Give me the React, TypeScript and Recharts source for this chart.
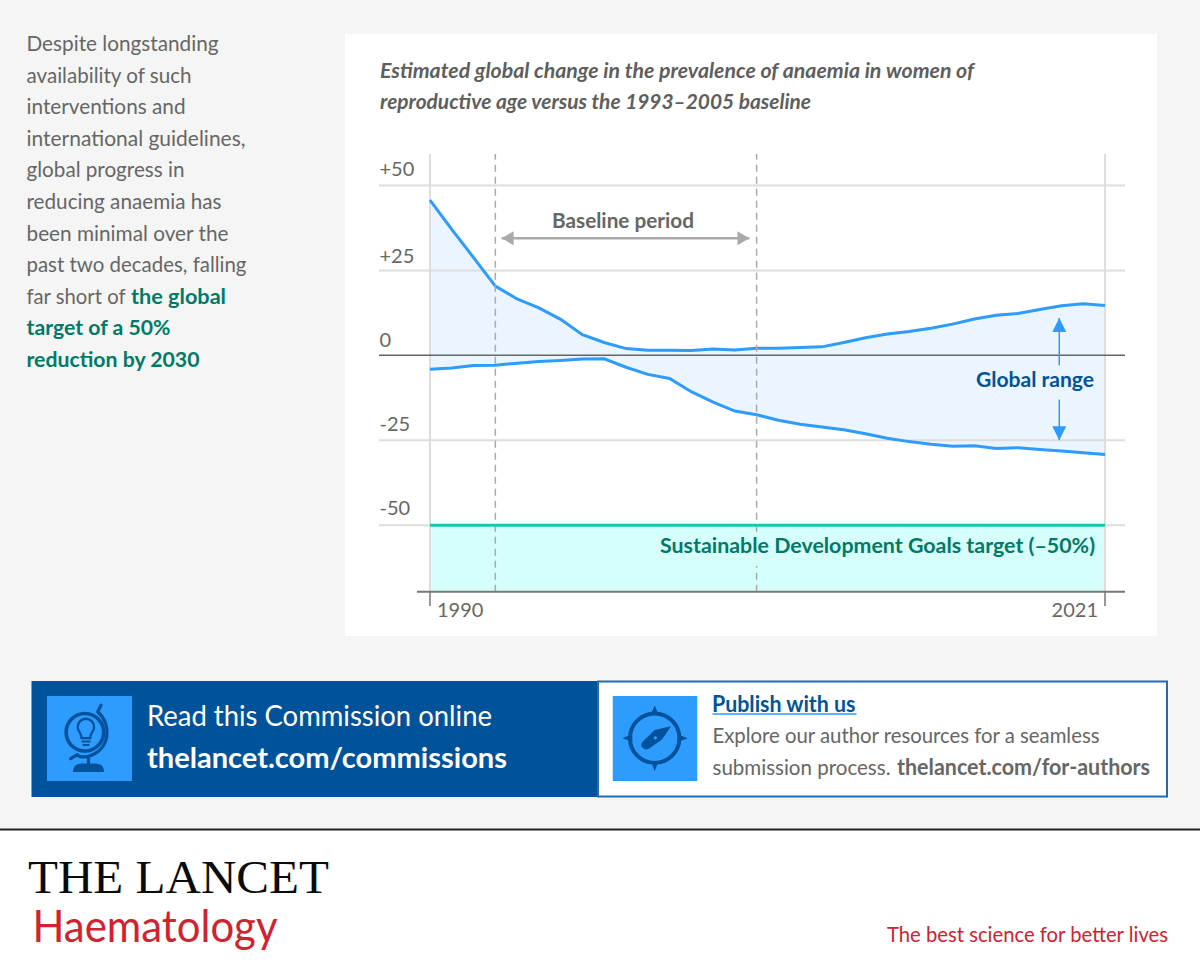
import {
  Area,
  ComposedChart,
  Line,
  ReferenceArea,
  ReferenceLine,
  XAxis,
  YAxis,
} from 'recharts';

const years = [
  1990, 1991, 1992, 1993, 1994, 1995, 1996, 1997, 1998, 1999, 2000, 2001, 2002, 2003, 2004, 2005,
  2006, 2007, 2008, 2009, 2010, 2011, 2012, 2013, 2014, 2015, 2016, 2017, 2018, 2019, 2020, 2021,
];
const upperChange = [
  45.7, 37.1, 28.8, 20.4, 16.6, 14, 10.6, 6.1, 3.8, 2, 1.5, 1.5, 1.4, 1.9, 1.6, 2.1,
  2.1, 2.3, 2.5, 3.8, 5.2, 6.3, 7, 8, 9.2, 10.7, 11.8, 12.3, 13.5, 14.6, 15.2, 14.7,
];
const lowerChange = [
  -4.1, -3.7, -3, -2.9, -2.3, -1.8, -1.5, -1.1, -1, -3.5, -5.6, -6.8, -10.7, -13.8, -16.4, -17.5,
  -19.1, -20.3, -21.1, -21.9, -23.1, -24.4, -25.4, -26.2, -26.8, -26.6, -27.4, -27.2, -27.7, -28.2, -28.7, -29.2,
];
const yTicks = [50, 25, 0, -25, -50];
const yTickLabels = ['+50', '+25', '0', '-25', '-50'];
const yTickLift = [9.5, 7.5, 8, 9, 10];
const xTicks = [1990, 2021];
const baselineYears = [1993, 2005];
const sdgTarget = -50;
const yDomain = [-69.6, 59.3];

const rows = years.map((year, i) => ({
  year,
  upper: upperChange[i],
  lower: lowerChange[i],
  range: [lowerChange[i], upperChange[i]],
}));

const FONT = 'Lato, sans-serif';
const GREY = '#666666';
const BLUE = '#2e9bff';
const NAVY = '#00539b';
const GREEN = '#007a68';
const RED = '#d2212f';

// text with a fixed baseline, squeezed to the measured width
function T({ x, y, w, size = 21, color = GREY, bold = false, italic = false, family = FONT, children }: any) {
  return (
    <text
      x={x}
      y={y}
      fontFamily={family}
      fontSize={size}
      fill={color}
      fontWeight={bold ? 700 : 400}
      fontStyle={italic ? 'italic' : 'normal'}
      textLength={w}
      lengthAdjust="spacingAndGlyphs"
    >
      {children}
    </text>
  );
}

function YTick({ y, payload }: any) {
  const i = yTicks.indexOf(payload.value);
  return (
    <text x={34.5} y={y - yTickLift[i]} fontFamily={FONT} fontSize={20} fill={GREY}>
      {yTickLabels[i]}
    </text>
  );
}

function XTick({ x, payload }: any) {
  const first = payload.value === xTicks[0];
  return (
    <g>
      <line x1={x} x2={x} y1={557.7} y2={572} stroke="#777" strokeWidth={1.5} />
      <text
        x={first ? x + 7 : x - 7}
        y={583}
        textAnchor={first ? 'start' : 'end'}
        fontFamily={FONT}
        fontSize={20}
        fill={GREY}
      >
        {payload.value}
      </text>
    </g>
  );
}

// horizontal rule that runs past the plot on both sides
const wideRule = (from: number) => (props: any) => (
  <line x1={from} x2={780} y1={props.y1} y2={props.y1} stroke={props.stroke} strokeWidth={props.strokeWidth} />
);

const arrow = (props: any) => {
  const { x1, y1, x2, y2, stroke, strokeWidth, head, both } = props;
  const dx = Math.sign(x2 - x1);
  const dy = Math.sign(y2 - y1);
  const tri = (tx: number, ty: number, ux: number, uy: number) =>
    `${tx},${ty} ${tx - ux * head + uy * 7},${ty - uy * head + ux * 7} ${tx - ux * head - uy * 7},${ty - uy * head - ux * 7}`;
  return (
    <g>
      <line x1={x1} y1={y1} x2={x2} y2={y2} stroke={stroke} strokeWidth={strokeWidth} />
      <polygon points={tri(x2, y2, dx, dy)} fill={stroke} />
      {both && <polygon points={tri(x1, y1, -dx, -dy)} fill={stroke} />}
    </g>
  );
};

function Chart() {
  return (
    <ComposedChart
      width={812}
      height={602}
      data={rows}
      margin={{ top: 120, right: 52, left: 0, bottom: 0 }}
    >
      <XAxis
        dataKey="year"
        type="number"
        domain={[1990, 2021]}
        ticks={xTicks}
        interval={0}
        height={44.3}
        axisLine={false}
        tickLine={false}
        tick={<XTick />}
      />
      <YAxis
        type="number"
        domain={yDomain}
        ticks={yTicks}
        interval={0}
        width={85}
        axisLine={false}
        tickLine={false}
        tick={<YTick />}
      />
      <ReferenceArea y1={sdgTarget} y2={yDomain[0]} fill="#d6fffc" fillOpacity={1} stroke="none" />
      {yTicks.filter((v) => v !== 0).map((v) => (
        <ReferenceLine key={v} y={v} stroke="#dddddd" strokeWidth={2} shape={wideRule(34)} />
      ))}
      {xTicks.map((v) => (
        <ReferenceLine key={v} x={v} stroke="#dddddd" strokeWidth={2} />
      ))}
      <Area
        dataKey="range"
        type="linear"
        stroke="none"
        fill={BLUE}
        fillOpacity={0.1}
        dot={false}
        activeDot={false}
        isAnimationActive={false}
      />
      <Line dataKey="upper" type="linear" stroke={BLUE} strokeWidth={3} dot={false} activeDot={false} isAnimationActive={false} />
      <Line dataKey="lower" type="linear" stroke={BLUE} strokeWidth={3} dot={false} activeDot={false} isAnimationActive={false} />
      {baselineYears.map((v) => (
        <ReferenceLine key={v} x={v} stroke="#aaaaaa" strokeWidth={1.5} strokeDasharray="7 5" />
      ))}
      <ReferenceLine y={0} stroke="#666666" strokeWidth={1.5} shape={wideRule(34)} />
      <ReferenceLine y={sdgTarget} stroke="#17c7a9" strokeWidth={3} />
      <ReferenceLine y={yDomain[0]} stroke="#777777" strokeWidth={2} shape={wideRule(72)} />
      <ReferenceLine
        segment={[{ x: 1993.29, y: 34.5 }, { x: 2004.67, y: 34.5 }]}
        stroke="#aaaaaa"
        strokeWidth={2.5}
        shape={(p: any) => arrow({ ...p, head: 12, both: true })}
      />
      <ReferenceLine
        segment={[{ x: 2018.9, y: -2.9 }, { x: 2018.9, y: 11 }]}
        stroke={BLUE}
        strokeWidth={1.5}
        shape={(p: any) => arrow({ ...p, head: 14 })}
      />
      <ReferenceLine
        segment={[{ x: 2018.9, y: -13 }, { x: 2018.9, y: -25 }]}
        stroke={BLUE}
        strokeWidth={1.5}
        shape={(p: any) => arrow({ ...p, head: 14 })}
      />
    </ComposedChart>
  );
}

function GlobeIcon({ x, y }: any) {
  return (
    <svg x={x} y={y} width={85} height={85} viewBox="0 0 258 258" fill="none" stroke={NAVY} strokeWidth={10}>
      <rect width={258} height={258} fill={BLUE} stroke="none" />
      <circle cx={115} cy={110} r={57} strokeWidth={11} />
      <path d="M164 28 L154 48 C200 90 190 165 125 183 C110 187 95 185 92 178 L72 190" strokeWidth={10} strokeLinecap="round" strokeLinejoin="round" />
      <path d="M126 188 V212" />
      <path d="M84 226 Q86 210 106 210 H146 Q166 210 168 226 Z" fill={NAVY} />
      <path d="M105 128 C105 112 93 108 93 94 A25 25 0 0 1 143 94 C143 108 131 112 131 128 Z" strokeWidth={7} />
      <path d="M105 138 H132 M108 149 H129" strokeWidth={6} />
    </svg>
  );
}

function CompassIcon({ x, y }: any) {
  return (
    <svg x={x} y={y} width={85} height={85} viewBox="0 0 258 258" fill={NAVY}>
      <rect width={258} height={258} fill={BLUE} />
      <circle cx={128} cy={128} r={75} fill="none" stroke={NAVY} strokeWidth={12} />
      <polygon points="128,28 116,58 140,58" />
      <polygon points="128,228 116,198 140,198" />
      <polygon points="30,128 60,116 60,140" />
      <polygon points="228,128 198,116 198,140" />
      <path d="M178 92 L128 103 L92 138 Q82 150 92 158 Q102 167 114 158 L150 132 Z" />
      <circle cx={130} cy={127} r={5} fill={BLUE} />
    </svg>
  );
}

function PageText() {
  return (
    <svg
      width={1200}
      height={974}
      style={{ position: 'absolute', left: 0, top: 0, pointerEvents: 'none' }}
    >
      <T x={26.5} y={51} w={192}>Despite longstanding</T>
      <T x={26.5} y={82.6} w={165}>availability of such</T>
      <T x={26.5} y={114.2} w={159}>interventions and</T>
      <T x={26.5} y={145.8} w={219}>international guidelines,</T>
      <T x={26.5} y={177.4} w={158}>global progress in</T>
      <T x={26.5} y={209} w={195}>reducing anaemia has</T>
      <T x={26.5} y={240.6} w={202}>been minimal over the</T>
      <T x={26.5} y={272.2} w={220}>past two decades, falling</T>
      <T x={26.5} y={303.8} w={99}>far short of</T>
      <T x={131} y={303.8} w={95} color={GREEN} bold>the global</T>
      <T x={26.5} y={335.4} w={144} color={GREEN} bold>target of a 50%</T>
      <T x={26.5} y={367} w={173} color={GREEN} bold>reduction by 2030</T>

      <T x={380} y={78} w={594} size={20} color="#5e5e5e" bold italic>
        Estimated global change in the prevalence of anaemia in women of
      </T>
      <T x={380} y={109} w={431} size={20} color="#5e5e5e" bold italic>
        reproductive age versus the 1993–2005 baseline
      </T>

      <T x={552} y={228} w={142} bold>Baseline period</T>
      <T x={976} y={387} w={118} color={NAVY} bold>Global range</T>
      <rect x={750} y={534} width={14} height={32} fill="#d6fffc" />
      <T x={660} y={553} w={435} color={GREEN} bold>Sustainable Development Goals target (–50%)</T>

      <rect x={31.5} y={681} width={566} height={116} fill={NAVY} />
      <rect x={598} y={681.5} width={569} height={115} fill="#ffffff" stroke="#1f6cb0" strokeWidth={2} />
      <GlobeIcon x={47} y={696} />
      <CompassIcon x={612.5} y={696} />
      <T x={147} y={726} w={345} size={29} color="#ffffff">Read this Commission online</T>
      <T x={147} y={768.3} w={360} size={29} color="#ffffff" bold>thelancet.com/commissions</T>
      <T x={712} y={711.7} w={143.5} size={22} color={NAVY} bold>Publish with us</T>
      <line x1={712.5} x2={856.5} y1={714} y2={714} stroke={BLUE} strokeWidth={1.5} />
      <T x={712.5} y={743} w={387} size={22}>Explore our author resources for a seamless</T>
      <T x={712.5} y={775} w={178} size={22}>submission process.</T>
      <T x={897} y={775} w={253} size={22} bold>thelancet.com/for-authors</T>

      <rect x={0} y={829} width={1200} height={145} fill="#ffffff" />
      <rect x={0} y={828.5} width={1200} height={2} fill="#222222" />
      <T x={28} y={892.7} w={301} size={47} color="#0a0a0a" family="'Liberation Serif', serif">THE LANCET</T>
      <T x={32.5} y={941.7} w={245} size={44} color={RED}>Haematology</T>
      <T x={887} y={942} w={281} size={21} color={RED}>The best science for better lives</T>
    </svg>
  );
}

export default function App() {
  return (
    <div style={{ position: 'absolute', left: 0, top: 0, width: 1200, height: 974, background: '#f5f5f5', overflow: 'hidden' }}>
      <div style={{ position: 'absolute', left: 345, top: 34, width: 812, height: 602, background: '#ffffff' }}>
        <Chart />
      </div>
      <PageText />
    </div>
  );
}
